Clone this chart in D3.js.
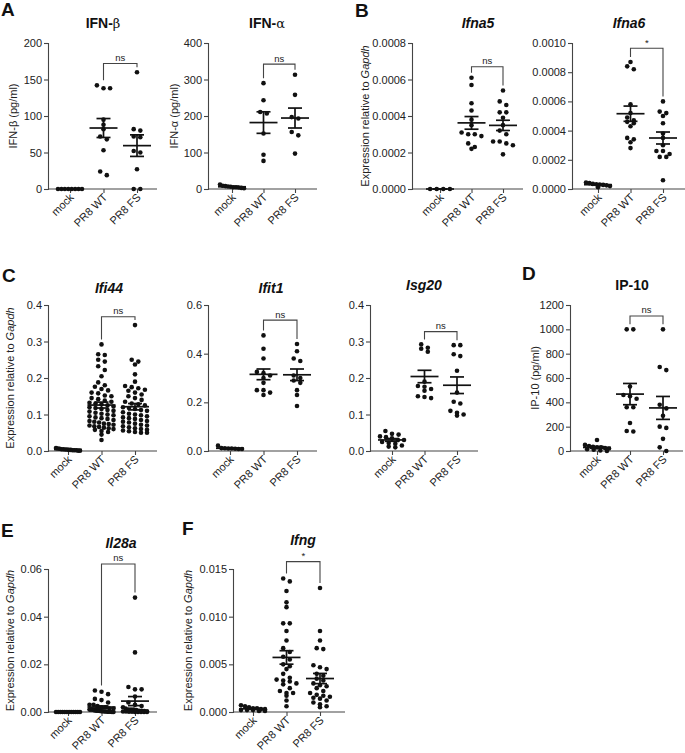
<!DOCTYPE html>
<html><head><meta charset="utf-8">
<script src="https://cdn.jsdelivr.net/npm/d3@7"></script>
<style>
body{margin:0;background:#fff}
svg{display:block}
text{font-family:Arial,"Liberation Sans",Helvetica,sans-serif;fill:#222}
</style>
</head><body>
<svg id="chart" width="685" height="753"></svg>
<script>
// ---------------- DATA ----------------
const groups = ["mock", "PR8 WT", "PR8 FS"];

const ifnbMock = [0,0,0,0,0,0,0,0];
const ifnbWT   = [142,138,138,95,88,82,72,68,53,24,19];
const ifnbFS   = [160,82,80,72,71,52,50,27,0,0];
const ifnbTicks = [0,50,100,150,200];

const ifnaMock = [12,9,8,7,6,5,5,4,3,2];
const ifnaWT   = [290,243,211,207,152,94,77];
const ifnaFS   = [313,258,197,193,156,147,97];
const ifnaTicks = [0,100,200,300,400];

const ifna5Mock = [0,0,0,0];
const ifna5WT   = [0.00061,0.00057,0.00047,0.00043,0.00038,0.00035,0.00031,0.00030,0.00030,0.00029,0.00025,0.00023,0.00022];
const ifna5FS   = [0.00054,0.00048,0.00046,0.00042,0.00042,0.00039,0.00035,0.00032,0.00030,0.00026,0.00026,0.00025,0.00024,0.00019];
const ifna5Ticks = [0,0.0002,0.0004,0.0006,0.0008];

const ifna6Mock = [0.000045,0.00004,0.000035,0.000032,0.00003,0.000028,0.000025,0.00002,0.000012];
const ifna6WT   = [0.00087,0.00084,0.00082,0.00058,0.00052,0.00049,0.00047,0.00046,0.00045,0.00043,0.00035,0.00034,0.00032,0.00028];
const ifna6FS   = [0.00060,0.00053,0.00052,0.00050,0.00045,0.00038,0.00035,0.00030,0.00026,0.00026,0.00024,0.00022,0.00022,0.00006];
const ifna6Ticks = [0,0.0002,0.0004,0.0006,0.0008,0.0010];

const ifi44Mock = [0.008,0.007,0.006,0.005,0.005,0.004,0.004,0.003,0.003,0.002,0.002,0.002,0.001,0.001];
const ifi44WT   = [0.292,0.265,0.263,0.250,0.245,0.232,0.222,0.205,0.188,0.180,0.176,0.170,0.166,0.160,0.158,0.152,0.150,0.145,0.142,0.138,0.135,0.132,0.130,0.128,0.125,0.122,0.120,0.118,0.115,0.112,0.110,0.108,0.105,0.102,0.100,0.098,0.095,0.092,0.090,0.088,0.085,0.082,0.080,0.078,0.075,0.074,0.072,0.070,0.068,0.066,0.064,0.062,0.060,0.058,0.055,0.052,0.045,0.030];
const ifi44FS   = [0.345,0.250,0.245,0.237,0.210,0.190,0.178,0.175,0.172,0.168,0.165,0.160,0.155,0.150,0.145,0.140,0.135,0.130,0.128,0.125,0.120,0.118,0.115,0.112,0.110,0.106,0.102,0.100,0.098,0.095,0.092,0.090,0.088,0.085,0.082,0.080,0.078,0.075,0.072,0.070,0.068,0.065,0.062,0.060,0.058,0.056,0.054,0.052,0.050,0.050];
const ifi44Ticks = [0,0.1,0.2,0.3,0.4];

const ifit1Mock = [0.022,0.012,0.011,0.010,0.010,0.009,0.008,0.008];
const ifit1WT   = [0.475,0.42,0.38,0.325,0.32,0.31,0.30,0.28,0.25,0.25,0.24,0.23];
const ifit1FS   = [0.44,0.41,0.38,0.37,0.31,0.30,0.29,0.28,0.25,0.23,0.185];
const ifit1Ticks = [0,0.2,0.4,0.6];

const isg20Mock = [0.055,0.047,0.045,0.040,0.038,0.035,0.030,0.030,0.025,0.022,0.020,0.015,0.012,0.010];
const isg20WT   = [0.292,0.283,0.280,0.272,0.190,0.178,0.176,0.170,0.165,0.150,0.148,0.145];
const isg20FS   = [0.29,0.29,0.265,0.26,0.22,0.16,0.135,0.13,0.11,0.105,0.10,0.097];
const isg20Ticks = [0,0.1,0.2,0.3,0.4];

const ip10Mock = [90,50,40,35,30,30,25,20,15,10,5,0];
const ip10WT   = [1000,1000,530,460,450,430,360,360,230,165,160];
const ip10FS   = [1000,690,665,380,350,290,200,190,100,30,0];
const ip10Ticks = [0,200,400,600,800,1000,1200];

const il28aMock = [0,0,0,0,0,0,0,0,0,0,0,0];
const il28aWT   = [0.009,0.0085,0.0075,0.0055,0.005,0.004,0.003,0.003,0.0025,0.002,0.002,0.0015,0.0015,0.001,0.001,0.001,0.0008,0.0006,0.0005,0.0005,0.0004,0.0003,0.0003,0.0002,0.0002,0.0001,0.0001,0.0001,0,0];
const il28aFS   = [0.048,0.025,0.0105,0.0095,0.0095,0.0065,0.004,0.003,0.0025,0.002,0.0015,0.001,0.001,0.001,0.0008,0.0005,0.0005,0.0004,0.0003,0.0002,0.0002,0.0001,0.0001,0,0,0,0,0];
const il28aTicks = [0,0.02,0.04,0.06];

const ifngMock = [0.0007,0.0006,0.0005,0.0004,0.0004,0.0003,0.0003,0.0002,0.0002,0.0002,0.0001,0.0001];
const ifngWT   = [0.014,0.0137,0.0127,0.0115,0.011,0.0093,0.0093,0.0085,0.0075,0.0067,0.0063,0.0058,0.0055,0.005,0.0048,0.0045,0.004,0.0036,0.0034,0.0033,0.0032,0.003,0.0029,0.0025,0.0022,0.002,0.002,0.0017,0.0012,0.0006];
const ifngFS   = [0.013,0.0085,0.0075,0.0067,0.0066,0.0049,0.0047,0.0045,0.004,0.0038,0.0035,0.0033,0.003,0.0028,0.0027,0.0025,0.0022,0.002,0.0018,0.0017,0.0016,0.0015,0.0014,0.0012,0.001,0.0008,0.0006,0.0005];
const ifngTicks = [0,0.005,0.010,0.015];

// significance annotations (bracket level in data units, label)
const sigLabels = ["ns","ns","ns","*","ns","ns","ns","ns","ns","*"];
const bracketLevels = [172, 342, 0.00067, 0.000964, 0.368, 0.538, 0.327, 1110, 0.0621, 0.01577];

// ---------------- LAYOUT ----------------
const panels = [
  {title:"IFN-", greek:"β", italic:false, tx:103, ty:28, ax:48, xe:157, c0:70, c1:137, yt:43, yb:189, ticks:ifnbTicks, fmt:d3.format("d"), ylab:"beta", lx:13, data:[ifnbMock,ifnbWT,ifnbFS]},
  {title:"IFN-", greek:"α", italic:false, tx:267, ty:28, ax:208, xe:317, c0:232, c1:295, yt:43, yb:189, ticks:ifnaTicks, fmt:d3.format("d"), ylab:"alpha", lx:174, data:[ifnaMock,ifnaWT,ifnaFS]},
  {title:"Ifna5", italic:true, tx:478, ty:28, ax:412, xe:523, c0:440, c1:503, yt:43, yb:189, ticks:ifna5Ticks, fmt:d3.format(".4f"), ylab:"expr", lx:365, data:[ifna5Mock,ifna5WT,ifna5FS]},
  {title:"Ifna6", italic:true, tx:629, ty:28, ax:572, xe:685, c0:598, c1:663, yt:43, yb:189, ticks:ifna6Ticks, fmt:d3.format(".4f"), ylab:null, data:[ifna6Mock,ifna6WT,ifna6FS]},
  {title:"Ifi44", italic:true, tx:109, ty:293, ax:48, xe:157, c0:68, c1:135, yt:305, yb:451, ticks:ifi44Ticks, fmt:d3.format(".1f"), ylab:"expr", lx:10, data:[ifi44Mock,ifi44WT,ifi44FS]},
  {title:"Ifit1", italic:true, tx:271, ty:293, ax:208, xe:317, c0:230, c1:297, yt:305, yb:451, ticks:ifit1Ticks, fmt:d3.format(".1f"), ylab:null, data:[ifit1Mock,ifit1WT,ifit1FS]},
  {title:"Isg20", italic:true, tx:424, ty:290, ax:370, xe:478, c0:392, c1:457, yt:305, yb:451, ticks:isg20Ticks, fmt:d3.format(".1f"), ylab:null, data:[isg20Mock,isg20WT,isg20FS]},
  {title:"IP-10", italic:false, tx:632, ty:290, ax:570, xe:683, c0:597, c1:663, yt:305, yb:451, ticks:ip10Ticks, fmt:d3.format("d"), ylab:"ip10", lx:535, data:[ip10Mock,ip10WT,ip10FS]},
  {title:"Il28a", italic:true, tx:121, ty:548, ax:48, xe:157, c0:68, c1:135, yt:569, yb:712, ticks:il28aTicks, fmt:d3.format(".2f"), ylab:"expr", lx:10, data:[il28aMock,il28aWT,il28aFS]},
  {title:"Ifng", italic:true, tx:303, ty:545, ax:233, xe:345, c0:253, c1:320, yt:569, yb:712, ticks:ifngTicks, fmt:d3.format(".3f"), ylab:"expr", lx:188, data:[ifngMock,ifngWT,ifngFS]}
];
const letters = [
  {t:"A", x:1, y:16}, {t:"B", x:355, y:17}, {t:"C", x:2, y:282},
  {t:"D", x:522, y:280}, {t:"E", x:1, y:537}, {t:"F", x:182, y:535}
];

const svg = d3.select("#chart");
const AX = "#444";
const R = 2.3;

letters.forEach(l => svg.append("text").attr("x", l.x).attr("y", l.y)
  .attr("font-size", 19).attr("font-weight", "bold").style("fill","#111").text(l.t));

function rowLayout(vals, y, spacing, maxSpan, rowH) {
  const pts = vals.map(v => ({v, py: y(v)})).sort((a,b) => a.py - b.py);
  const rows = [];
  pts.forEach(p => {
    const row = rows[rows.length-1];
    if (row && p.py - row.start < rowH) row.items.push(p);
    else rows.push({start: p.py, items: [p]});
  });
  rows.forEach(row => {
    const n = row.items.length;
    const s = n > 1 ? Math.min(spacing, maxSpan/(n-1)) : 0;
    row.items.forEach((p,i) => p.dx = (i - (n-1)/2) * s);
  });
  return pts;
}

panels.forEach((p, pi) => {
  const g = svg.append("g");
  const y = d3.scaleLinear().domain([p.ticks[0], p.ticks[p.ticks.length-1]]).range([p.yb, p.yt]);
  const x = d3.scalePoint().domain(groups).range([p.c0, p.c1]);

  // y axis
  const ya = g.append("g").attr("transform", `translate(${p.ax},0)`)
    .call(d3.axisLeft(y).tickValues(p.ticks).tickFormat(p.fmt).tickSize(4).tickPadding(2));
  ya.select(".domain").attr("stroke", AX).attr("stroke-width", 1.1);
  ya.selectAll(".tick line").attr("stroke", AX).attr("stroke-width", 1.1);
  ya.selectAll(".tick text").attr("font-size", 11).attr("font-family", "Arial,'Liberation Sans',sans-serif").style("fill","#222");

  // x axis
  const xa = g.append("g").attr("transform", `translate(0,${p.yb})`)
    .call(d3.axisBottom(x).tickSize(4).tickSizeOuter(0));
  xa.select(".domain").attr("d", `M${p.ax},0H${p.xe}`).attr("stroke", AX).attr("stroke-width", 1.1);
  xa.selectAll(".tick line").attr("stroke", AX).attr("stroke-width", 1.1);
  xa.selectAll(".tick text").attr("font-size", 11).attr("font-family", "Arial,'Liberation Sans',sans-serif")
    .style("fill","#222")
    .attr("text-anchor", "end").attr("dy", null).attr("y", 0)
    .attr("transform", "translate(4,9) rotate(-45)");

  // title
  const t = g.append("text").attr("x", p.tx).attr("y", p.ty).attr("text-anchor", "middle")
    .attr("font-size", 14).attr("font-weight", "bold").style("fill","#111");
  if (p.italic) t.attr("font-style", "italic");
  t.append("tspan").text(p.title);
  if (p.greek) t.append("tspan").attr("font-weight", "normal").attr("font-family","'DejaVu Serif',serif").attr("font-size",13).text(p.greek);

  // y label
  if (p.ylab) {
    const cy = (p.yt + p.yb) / 2;
    const yl = g.append("text").attr("transform", `translate(${p.lx},${cy}) rotate(-90)`)
      .attr("text-anchor", "middle").attr("dominant-baseline", "central").attr("font-size", 11).style("fill","#222");
    if (p.ylab === "expr") {
      yl.append("tspan").text("Expression relative to ");
      yl.append("tspan").attr("font-style", "italic").text("Gapdh");
    } else if (p.ylab === "beta") {
      yl.text("IFN-β (pg/ml)");
    } else if (p.ylab === "alpha") {
      yl.text("IFN-α (pg/ml)");
    } else {
      yl.text("IP-10 (pg/ml)");
    }
  }

  // dots + mean/SEM
  p.data.forEach((vals, gi) => {
    const cx = x(groups[gi]);
    const pts = rowLayout(vals, y, 6.6, 24, 4.2);
    g.append("g").selectAll("circle").data(pts).join("circle")
      .attr("cx", d => cx + d.dx).attr("cy", d => d.py).attr("r", R).attr("fill", "#111");
    const m = d3.mean(vals);
    const sem = vals.length > 1 ? d3.deviation(vals) / Math.sqrt(vals.length) : 0;
    const lg = g.append("g").attr("stroke", "#111").attr("stroke-width", 1.7).attr("fill","none");
    lg.append("line").attr("x1", cx-14).attr("x2", cx+14).attr("y1", y(m)).attr("y2", y(m));
    lg.append("line").attr("x1", cx-7).attr("x2", cx+7).attr("y1", y(m+sem)).attr("y2", y(m+sem));
    lg.append("line").attr("x1", cx-7).attr("x2", cx+7).attr("y1", y(m-sem)).attr("y2", y(m-sem));
    lg.append("line").attr("x1", cx).attr("x2", cx).attr("y1", y(m+sem)).attr("y2", y(m-sem));
  });

  // significance bracket
  const by = y(bracketLevels[pi]);
  const xw = x(groups[1]), xf = x(groups[2]);
  const lw = y(d3.max(p.data[1])) - 5, lf = y(d3.max(p.data[2])) - 5;
  g.append("path").attr("d", `M${xw},${lw}V${by}H${xf}V${lf}`)
    .attr("fill", "none").attr("stroke", AX).attr("stroke-width", 1.1);
  g.append("text").attr("x", (xw+xf)/2).attr("y", by - 2.5).attr("text-anchor", "middle")
    .attr("font-size", 9.5).style("fill","#222").text(sigLabels[pi]);
});
</script>
</body></html>
